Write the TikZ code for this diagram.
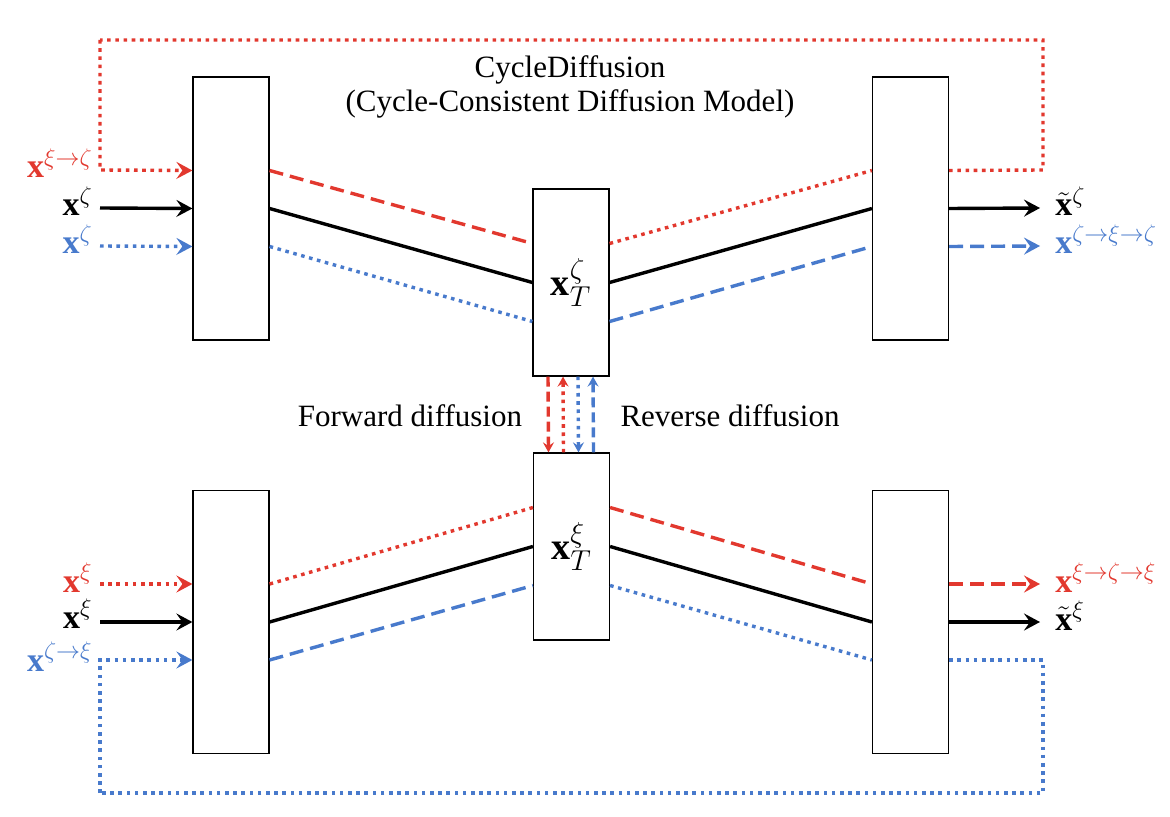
\documentclass[tikz,border=0pt]{standalone}
\usepackage{fontspec}
\setmainfont{Liberation Serif}
\usetikzlibrary{arrows.meta,calc}
\definecolor{cred}{RGB}{226,56,46}
\definecolor{cblue}{RGB}{72,122,204}
\begin{document}
\begin{tikzpicture}[x=0.5pt,y=-0.5pt,
  box/.style={draw,line width=0.6pt,inner sep=0pt,fill=white,minimum width=38pt},
  tallbox/.style={box,minimum height=131.5pt},
  midbox/.style={box,minimum height=93.5pt},
  ln/.style={line width=1.7pt},
  dots/.style={dash pattern=on 1.8pt off 2.3pt},
  dashes/.style={dash pattern=on 7pt off 3.5pt},
  tip/.style={-{Stealth[length=8pt,width=8.5pt,inset=3pt]}},
  stip/.style={-{Stealth[length=5pt,width=5.5pt,inset=1.8pt]}},
  txt/.style={font=\fontsize{15.5}{18}\selectfont,inner sep=0pt},
  mlab/.style={font=\fontsize{17}{20}\selectfont,inner sep=0pt},
  clab/.style={font=\fontsize{19}{22}\selectfont,inner sep=0pt},
]
\useasboundingbox (0,0) rectangle (1170,817);

% boxes
\node[tallbox] (TL) at (231,208.5) {};
\node[tallbox] (TR) at (910.5,208.5) {};
\node[tallbox] (BL) at (231,622) {};
\node[tallbox] (BR) at (910.5,622) {};
\node[midbox] (CT) at (571,282.5) {};
\node[midbox] (CB) at (571.5,546.5) {};
\node[clab] (CTl) at (CT.center) {$\mathbf{x}_T^{\zeta}$};
\node[clab] (CBl) at (CB.center) {$\mathbf{x}_T^{\xi}$};

% title
\node[txt] (title1) at (570,70) {CycleDiffusion};
\node[txt] (title2) at (570,104) {(Cycle-Consistent Diffusion Model)};
\node[txt] (fwd) at (410,416) {Forward diffusion};
\node[txt] (rev) at (730,416) {Reverse diffusion};

% left labels, top
\node[mlab,anchor=base east,text=cred] (l1) at (93,178) {$\mathbf{x}^{\xi\to\zeta}$};
\node[mlab,anchor=base east] (l2) at (93,216) {$\mathbf{x}^{\zeta}$};
\node[mlab,anchor=base east,text=cblue] (l3) at (93,254) {$\mathbf{x}^{\zeta}$};
% left labels, bottom
\node[mlab,anchor=base east,text=cred] (l4) at (93,592) {$\mathbf{x}^{\xi}$};
\node[mlab,anchor=base east] (l5) at (93,628) {$\mathbf{x}^{\xi}$};
\node[mlab,anchor=base east,text=cblue] (l6) at (93,671) {$\mathbf{x}^{\zeta\to\xi}$};
% right labels
\node[mlab,anchor=base west] (r1) at (1055,216) {$\tilde{\mathbf{x}}^{\zeta}$};
\node[mlab,anchor=base west,text=cblue] (r2) at (1055,254) {$\mathbf{x}^{\zeta\to\xi\to\zeta}$};
\node[mlab,anchor=base west,text=cred] (r3) at (1055,592) {$\mathbf{x}^{\xi\to\zeta\to\xi}$};
\node[mlab,anchor=base west] (r4) at (1055,630) {$\tilde{\mathbf{x}}^{\xi}$};

% free-end coordinates
\coordinate (s1) at (100,170);
\coordinate (s2) at (100,208);
\coordinate (s3) at (100,246);
\coordinate (s4) at (100,584);
\coordinate (s5) at (100,622);
\coordinate (s6) at (100,660);
\coordinate (e2) at (1040,208);
\coordinate (e3) at (1040,246);
\coordinate (e4) at (1040,584);
\coordinate (e5) at (1040,622);
\coordinate (rc1) at (1043,170);
\coordinate (rc2) at (1043,40);
\coordinate (rc3) at (100,40);
\coordinate (bc1) at (1043,660);
\coordinate (bc2) at (1043,793);
\coordinate (bc3) at (100,793);

% top inputs
\draw[ln,cred,dots,tip] (rc3) -- (s1) -- ([yshift=19pt]TL.west);
\draw[ln,tip] (s2) -- (TL.west);
\draw[ln,cblue,dots,tip] (s3) -- ([yshift=-19pt]TL.west);
% top left -> center
\draw[ln,cred,dashes] ([yshift=19pt]TL.east) -- ([yshift=19.5pt]CT.west);
\draw[ln] (TL.east) -- (CT.west);
\draw[ln,cblue,dots] ([yshift=-19pt]TL.east) -- ([yshift=-19.5pt]CT.west);
% top center -> right
\draw[ln,cred,dots] ([yshift=19.5pt]CT.east) -- ([yshift=19pt]TR.west);
\draw[ln] (CT.east) -- (TR.west);
\draw[ln,cblue,dashes] ([yshift=-19.5pt]CT.east) -- ([yshift=-19pt]TR.west);
% top outputs
\draw[ln,cred,dots] ([yshift=19pt]TR.east) -- (rc1) -- (rc2) -- (rc3);
\draw[ln,tip] (TR.east) -- (e2);
\draw[ln,cblue,dashes,tip] ([yshift=-19pt]TR.east) -- (e3);

% bottom inputs
\draw[ln,cred,dots,tip] (s4) -- ([yshift=19pt]BL.west);
\draw[ln,tip] (s5) -- (BL.west);
\draw[ln,cblue,dots,tip] (bc3) -- (s6) -- ([yshift=-19pt]BL.west);
% bottom left -> center
\draw[ln,cred,dots] ([yshift=19pt]BL.east) -- ([yshift=19.5pt]CB.west);
\draw[ln] (BL.east) -- (CB.west);
\draw[ln,cblue,dashes] ([yshift=-19pt]BL.east) -- ([yshift=-19.5pt]CB.west);
% bottom center -> right
\draw[ln,cred,dashes] ([yshift=19.5pt]CB.east) -- ([yshift=19pt]BR.west);
\draw[ln] (CB.east) -- (BR.west);
\draw[ln,cblue,dots] ([yshift=-19.5pt]CB.east) -- ([yshift=-19pt]BR.west);
% bottom outputs
\draw[ln,cred,dashes,tip] ([yshift=19pt]BR.east) -- (e4);
\draw[ln,tip] (BR.east) -- (e5);
\draw[ln,cblue,dots] ([yshift=-19pt]BR.east) -- (bc1) -- (bc2) -- (bc3);

% vertical diffusion arrows
\draw[ln,cred,dash pattern=on 5pt off 2.5pt,stip] ([xshift=-11.5pt]CT.south) -- ([xshift=-11.5pt]CB.north);
\draw[ln,cred,dots,stip] ([xshift=-4pt]CB.north) -- ([xshift=-4pt]CT.south);
\draw[ln,cblue,dots,stip] ([xshift=3.5pt]CT.south) -- ([xshift=3.5pt]CB.north);
\draw[ln,cblue,dash pattern=on 5pt off 2.5pt,stip] ([xshift=11pt]CB.north) -- ([xshift=11pt]CT.south);
\end{tikzpicture}
\end{document}
